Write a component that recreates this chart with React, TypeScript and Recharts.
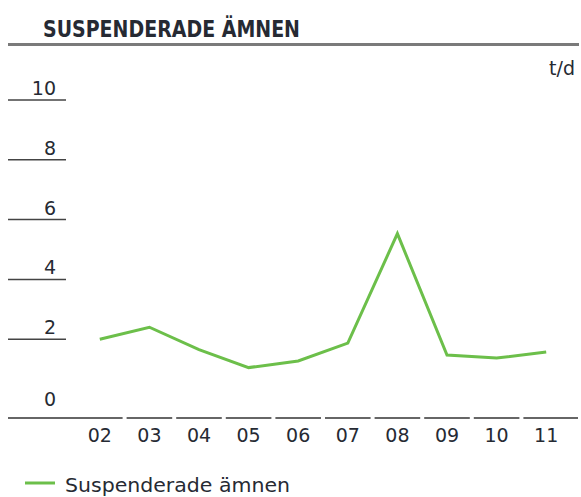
import React from "react";
import { Line, LineChart, XAxis, YAxis } from "recharts";

const years = ["02", "03", "04", "05", "06", "07", "08", "09", "10", "11"];
const suspended = [2.0, 2.4, 1.65, 1.05, 1.27, 1.87, 5.53, 1.47, 1.37, 1.57];
const yTicks = [0, 2, 4, 6, 8, 10];

const data = years.map((year, i) => ({ year, value: suspended[i] }));

const W = 581;
const H = 497;
const PLOT_LEFT = 75;
const PLOT_RIGHT = 571;
const BAND = (PLOT_RIGHT - PLOT_LEFT) / years.length;
const AXIS_Y = 418;
const FONT = "'DejaVu Sans', sans-serif";
const TEXT = "#262a33";
const GREEN = "#6cbf4a";

function YTick(props: any) {
  const { y, payload } = props;
  if (payload.value === 0) {
    return (
      <text x={56} y={y + 7} textAnchor="end" fontSize={19} fontFamily={FONT} fill={TEXT}>
        0
      </text>
    );
  }
  return (
    <g>
      <line x1={8} x2={66} y1={y} y2={y} stroke="#444" strokeWidth={1.5} />
      <text x={56} y={y - 5} textAnchor="end" fontSize={19} fontFamily={FONT} fill={TEXT}>
        {payload.value}
      </text>
    </g>
  );
}

function XTick(props: any) {
  const { x, payload, index } = props;
  const x1 = index === 0 ? 8 : x - BAND / 2 + 2;
  const x2 = index === years.length - 1 ? 578 : x + BAND / 2 - 2;
  return (
    <g>
      <line x1={x1} x2={x2} y1={AXIS_Y} y2={AXIS_Y} stroke="#333" strokeWidth={1.5} />
      <text x={x} y={AXIS_Y + 24} textAnchor="middle" fontSize={19} fontFamily={FONT} fill={TEXT}>
        {payload.value}
      </text>
    </g>
  );
}

export default function App() {
  return (
    <div style={{ position: "absolute", left: 0, top: 0, width: W, height: H, background: "#fff" }}>
      <LineChart width={W} height={H} data={data} margin={{ top: 100, right: W - PLOT_RIGHT, bottom: 68, left: 15 }}>
        <XAxis
          dataKey="year"
          height={30}
          axisLine={false}
          tickLine={false}
          tick={<XTick />}
          interval={0}
          padding={{ left: BAND / 2, right: BAND / 2 }}
        />
        <YAxis
          domain={[0, 10]}
          ticks={yTicks}
          width={60}
          axisLine={false}
          tickLine={false}
          tick={<YTick />}
          interval={0}
        />
        <Line type="linear" dataKey="value" stroke={GREEN} strokeWidth={3} dot={false} isAnimationActive={false} />
      </LineChart>
      <svg width={W} height={H} style={{ position: "absolute", left: 0, top: 0, pointerEvents: "none" }}>
        <text
          x={43}
          y={37}
          fontSize={23}
          fontWeight="bold"
          fontFamily={FONT}
          fill={TEXT}
          textLength={257}
          lengthAdjust="spacingAndGlyphs"
        >
          SUSPENDERADE ÄMNEN
        </text>
        <line x1={8} x2={579} y1={44.5} y2={44.5} stroke="#7a7a7a" strokeWidth={3} />
        <text x={575} y={75} textAnchor="end" fontSize={19} fontFamily={FONT} fill={TEXT}>
          t/d
        </text>
        <line x1={25} x2={55} y1={483} y2={483} stroke={GREEN} strokeWidth={3} />
        <text
          x={65}
          y={492}
          fontSize={20}
          fontFamily={FONT}
          fill={TEXT}
          textLength={225}
          lengthAdjust="spacingAndGlyphs"
        >
          Suspenderade ämnen
        </text>
      </svg>
    </div>
  );
}
